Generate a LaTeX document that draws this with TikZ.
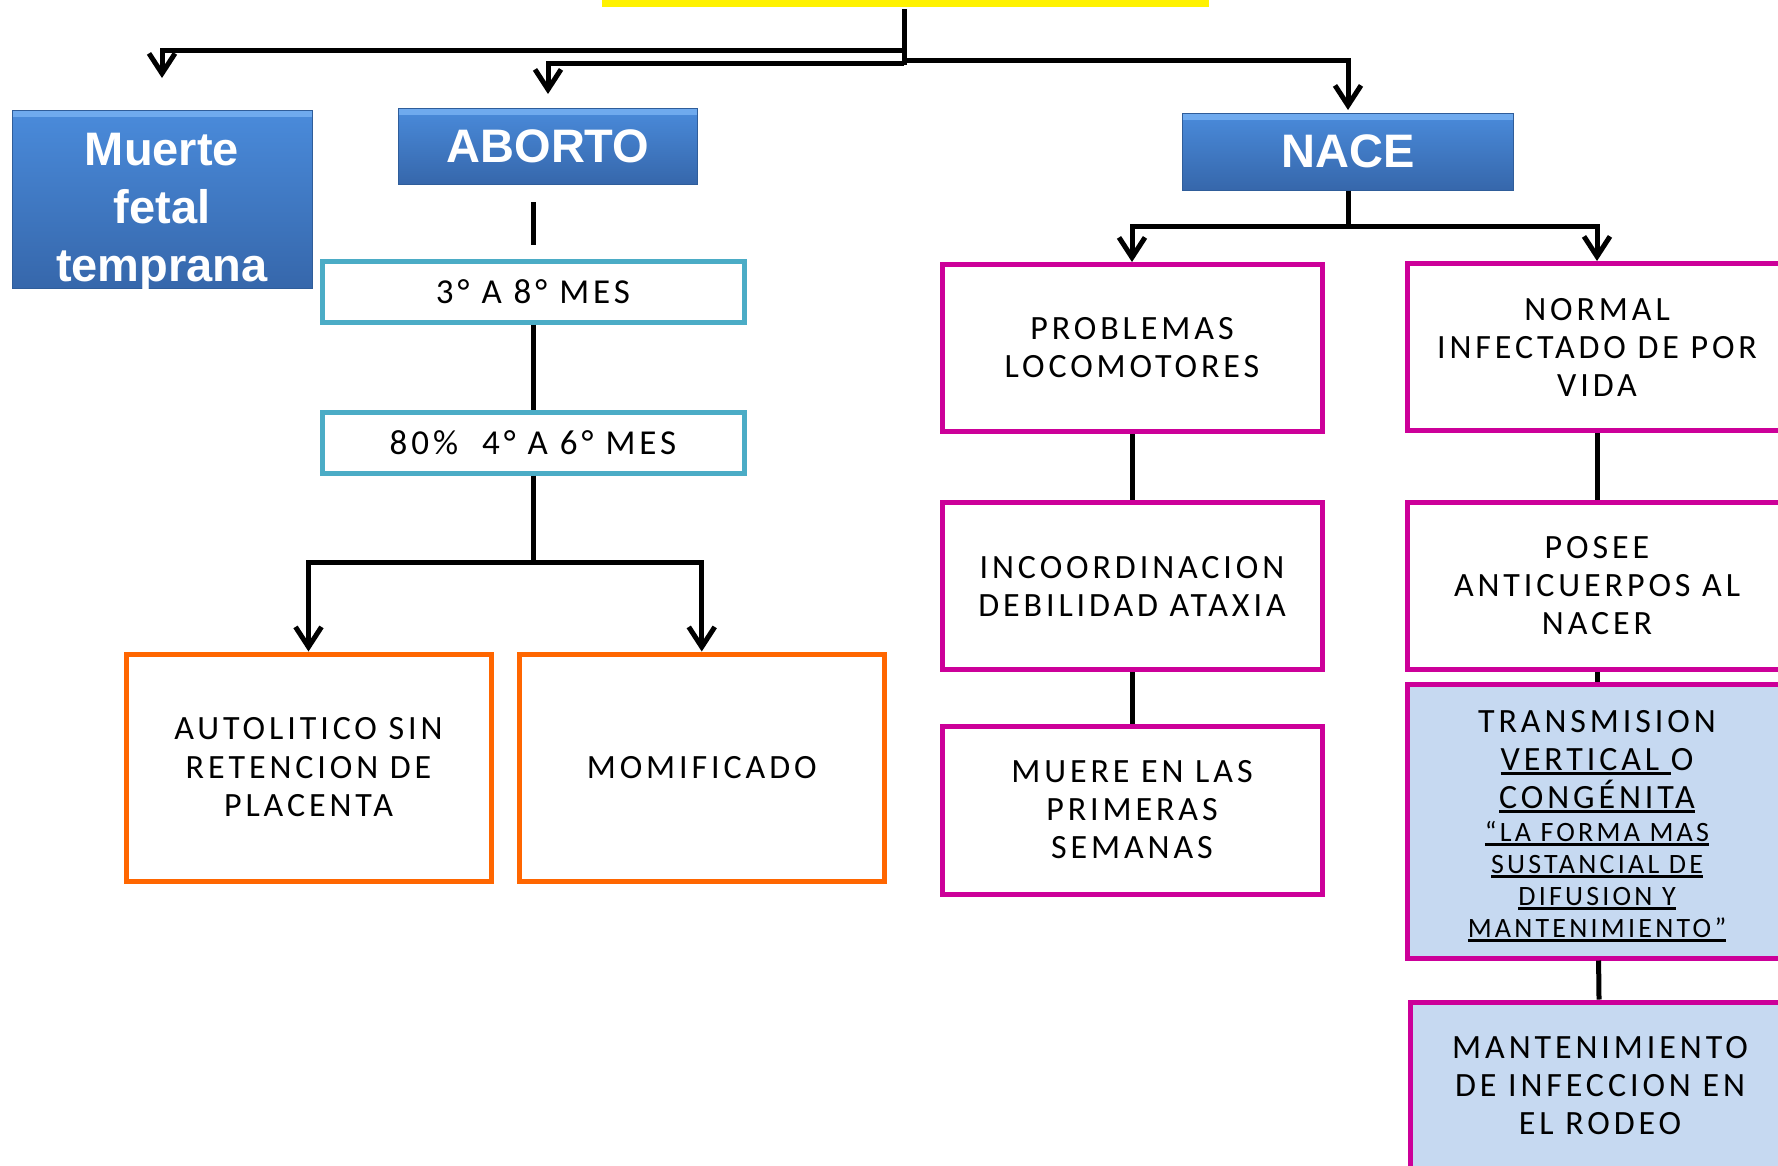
\documentclass[tikz,border=0pt]{standalone}
\usepackage{fontspec}
\setmainfont{Carlito}
\newfontfamily\headfont{Liberation Sans}
\newfontfamily\bodyfont[LetterSpace=11.5]{Carlito}
\usetikzlibrary{arrows.meta}
\definecolor{tealc}{HTML}{4BACC6}
\definecolor{magc}{HTML}{CC0099}
\definecolor{orc}{HTML}{FF6600}
\definecolor{lblue}{HTML}{C6D9F1}
\definecolor{btop}{HTML}{4A8BDB}
\definecolor{bbot}{HTML}{3667AB}
\definecolor{bhi}{HTML}{6FAAEE}
\definecolor{bedge}{HTML}{2F5D9A}
\newsavebox\ulbox
\newcommand\ulx[1]{\sbox\ulbox{#1}\rlap{\rule[-4pt]{\wd\ulbox}{2.5pt}}\usebox\ulbox}
\newcommand\smallf{\fontsize{28}{32}\selectfont}
\begin{document}
\begin{tikzpicture}[x=1pt,y=-1pt,
  bluebox/.style={draw=bedge, line width=1pt, top color=btop, bottom color=bbot, text=white,
    font={\headfont\bfseries\fontsize{47}{54}\selectfont}, align=center, inner sep=0pt,
    path picture={\fill[bhi] (path picture bounding box.north west) rectangle ([yshift=-7pt]path picture bounding box.north east);}},
  bluetext/.style={text=white, font={\headfont\bfseries\fontsize{47}{58}\selectfont}, align=center, inner sep=0pt},
  tealbox/.style={draw=tealc, line width=5pt, fill=white, font={\bodyfont\fontsize{35}{40}\selectfont},
    align=center, inner sep=0pt, minimum width=422pt, minimum height=61pt},
  magbox/.style={draw=magc, line width=5pt, fill=white, font={\bodyfont\fontsize{34}{38}\selectfont},
    align=center, inner sep=0pt, minimum width=380pt, minimum height=167pt},
  magtext/.style={font={\bodyfont\fontsize{34}{38}\selectfont}, align=center, inner sep=0pt},
  orbox/.style={draw=orc, line width=5pt, fill=white, font={\bodyfont\fontsize{34}{38.5}\selectfont},
    align=center, inner sep=0pt, minimum width=365pt, minimum height=227pt},
  conn/.style={line width=5pt, black},
  arr/.style={conn, -{Straight Barb[length=20pt,width=26pt]}}
]
\useasboundingbox (0,0) rectangle (1778,1165);
\clip (0,0) rectangle (1778,1165);
\fill[white] (0,0) rectangle (1778,1165);

% root (yellow, cut off at the top)
\node[fill=yellow, inner sep=0pt, minimum width=607pt, minimum height=67pt] (root) at (905.5,-26.5) {};

% blue headers
\node[bluebox, minimum width=300pt, minimum height=178pt] (muerte) at (162,199) {};
\node[bluetext] (muertetxt) at (162,212) {Muerte\\fetal\\temprana};
\node[bluebox, minimum width=299pt, minimum height=76pt] (aborto) at (548,146) {ABORTO};
\node[bluebox, minimum width=331pt, minimum height=77pt] (nace) at (1348,151.5) {NACE};

% teal boxes
\node[tealbox] (t1) at (533,291.5) {3° A 8° MES};
\node[tealbox] (t2) at (533,442.5) {80\% \ 4° A 6° MES};

% orange boxes
\node[orbox] (o1) at (308.5,767.5) {AUTOLITICO SIN\\RETENCION DE\\PLACENTA};
\node[orbox, minimum width=365.5pt] (o2) at (701.75,767.5) {MOMIFICADO};

% magenta boxes
\node[magbox] (m1) at (1132,348) {PROBLEMAS\\LOCOMOTORES};
\node[magbox] (m2) at (1132,586) {INCOORDINACION\\DEBILIDAD ATAXIA};
\node[magbox, minimum height=168pt] (m3) at (1132,810) {MUERE EN LAS\\PRIMERAS\\SEMANAS};
\node[magbox] (r1) at (1597,347) {NORMAL\\INFECTADO DE POR\\VIDA};
\node[magbox] (r2) at (1597,586) {POSEE\\ANTICUERPOS AL\\NACER};
\node[magbox, fill=lblue, minimum height=274pt] (r3) at (1597,821) {};
\node[magtext] (r3txt) at (1597,826)
  {TRANSMISION\\\ulx{VERTICAL }O\\\ulx{CONGÉNITA}\\[-5pt]\smallf\ulx{“LA FORMA MAS}\\[-6pt]\smallf\ulx{SUSTANCIAL DE}\\[-6pt]\smallf\ulx{DIFUSION Y}\\[-6pt]\smallf\ulx{MANTENIMIENTO”}};
\node[magbox, fill=lblue, minimum height=168pt] (r4) at (1600,1086) {MANTENIMIENTO\\DE INFECCION EN\\EL RODEO};

% top connectors
\coordinate (v0) at (904,9);
\coordinate (v1) at (904,65);
\draw[conn] (v0) -- (v1);
\coordinate (h1) at (902,50);
\coordinate (a1) at (162,78);
\draw[arr] (h1) -| (a1);
\coordinate (h2) at (904,63);
\coordinate (a2) at (548,94);
\draw[arr] (h2) -| (a2);
\coordinate (h3) at (904,60);
\coordinate (a3) at (1348,110);
\draw[arr] (h3) -| (a3);

% aborto branch
\coordinate (s0) at (533,202);
\coordinate (s1) at (533,245);
\draw[conn] (s0) -- (s1);
\draw[conn] (t1) -- (t2);
\coordinate (jo) at (533,562);
\draw[conn] (t2) -- (jo);
\draw[arr] (jo) -| (o1.north);
\draw[arr] (jo) -| (o2.north);

% nace branch
\coordinate (jn) at (1348,226);
\draw[conn] (nace) -- (jn);
\draw[arr] (jn) -| (m1.north);
\draw[arr] (jn) -| (r1.north);
\draw[conn] (m1) -- (m2);
\draw[conn] (m2) -- (m3);
\draw[conn] (r1) -- (r2);
\draw[conn] (r2) -- (r3);
\draw[conn] (r3) -- (r4);
\end{tikzpicture}
\end{document}
